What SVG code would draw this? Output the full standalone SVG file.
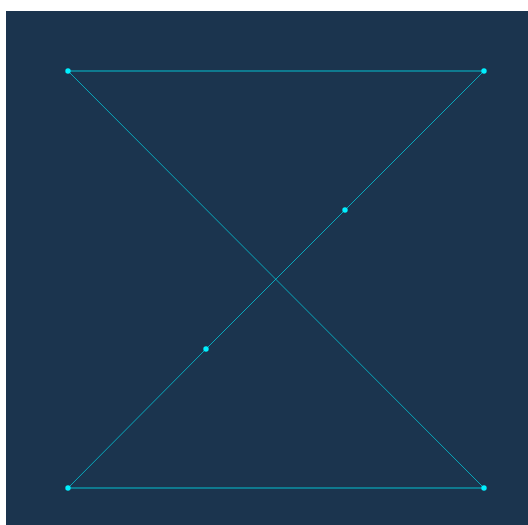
<svg xmlns="http://www.w3.org/2000/svg" width="528" height="525" viewBox="0 0 528 525">
<style>
.e{stroke:#00d8e8;stroke-width:1;fill:none}
.h{stroke-opacity:0.85}
.d{stroke-opacity:0.7}
.n{fill:#00f0ff}
</style>
<rect x="0" y="0" width="528" height="525" fill="#ffffff"/>
<rect x="6" y="11" width="522" height="514" fill="#1b344e"/>
<g id="connectors">
<line class="e h" x1="68" y1="71" x2="484" y2="71"/>
<line class="e h" x1="68" y1="488" x2="484" y2="488"/>
<line class="e d" x1="68" y1="71" x2="484" y2="488"/>
<line class="e d" x1="484" y1="71" x2="345" y2="210"/>
<line class="e d" x1="345" y1="210" x2="206" y2="349"/>
<line class="e d" x1="206" y1="349" x2="68" y2="488"/>
</g>
<g id="n1"><circle class="n" cx="68" cy="71" r="2.7"/></g>
<g id="n2"><circle class="n" cx="484" cy="71" r="2.7"/></g>
<g id="n3"><circle class="n" cx="68" cy="488" r="2.7"/></g>
<g id="n4"><circle class="n" cx="484" cy="488" r="2.7"/></g>
<g id="n5"><circle class="n" cx="345" cy="210" r="2.7"/></g>
<g id="n6"><circle class="n" cx="206" cy="349" r="2.7"/></g>
</svg>
